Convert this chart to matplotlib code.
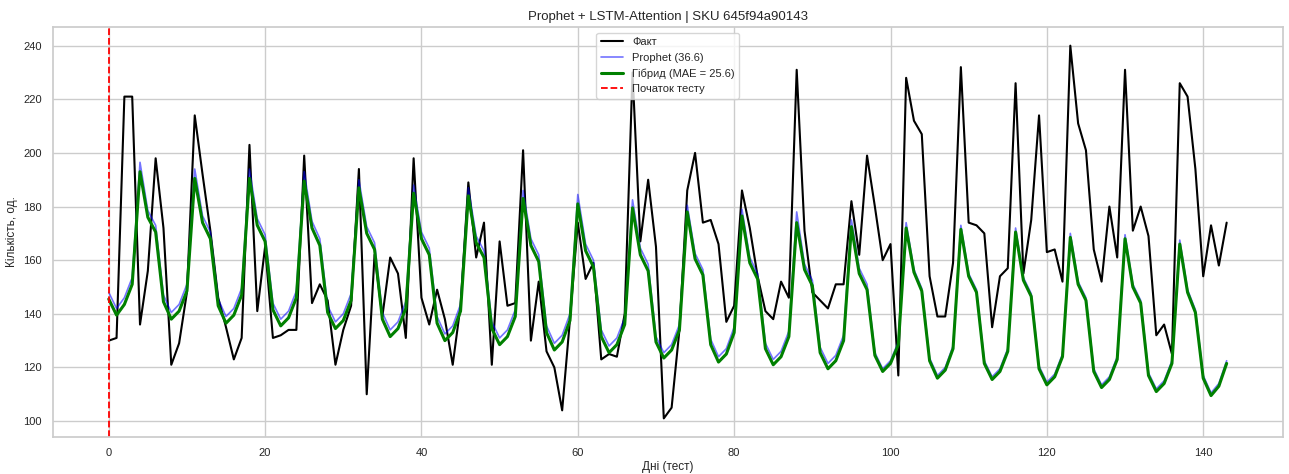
import matplotlib
matplotlib.use("Agg")
import matplotlib.pyplot as plt
import seaborn as sns
import numpy as np

days = list(range(144))

fact = [
    130, 131, 221, 221, 136, 156, 198,
    172, 121, 129, 148, 214, 192, 171,
    146, 135, 123, 131, 203, 141, 165,
    131, 132, 134, 134, 199, 144, 151,
    145, 121, 134, 143, 194, 110, 162,
    139, 161, 155, 131, 198, 146, 136,
    149, 138, 121, 143, 189, 161, 174,
    121, 167, 143, 144, 201, 130, 152,
    126, 120, 104, 138, 174, 153, 159,
    123, 125, 124, 140, 230, 167, 190,
    165, 101, 105, 134, 186, 200, 174,
    175, 166, 137, 143, 186, 172, 154,
    141, 138, 152, 146, 231, 171, 148,
    145, 142, 151, 151, 182, 162, 199,
    180, 160, 166, 117, 228, 212, 207,
    154, 139, 139, 159, 232, 174, 173,
    170, 135, 154, 157, 226, 155, 175,
    214, 163, 164, 152, 240, 211, 201,
    164, 152, 180, 161, 231, 171, 180,
    169, 132, 136, 125, 226, 221, 194,
    154, 173, 158, 174,
]

prophet = [
    148, 142, 146, 153.5, 196.5, 178.5, 173,
    147, 140.5, 143.5, 151, 194, 176.5, 170.5,
    145.5, 139, 142, 149.5, 194, 175.5, 169.5,
    144, 138, 141, 148.5, 193, 174.5, 168,
    143, 137, 140, 147.5, 190, 172.5, 166.5,
    140.5, 134, 137, 144.5, 188, 170.5, 164.5,
    139, 132.5, 135.5, 143.5, 187, 169, 163.5,
    137, 131, 134, 141.5, 186, 168, 162,
    135.5, 129, 132, 140, 184.5, 166, 160,
    134, 128, 131, 138.5, 182.5, 164.5, 158.5,
    131.5, 125.5, 128.5, 136, 180.5, 162.5, 156.5,
    130.5, 124, 127, 135, 179, 161, 155,
    129, 123, 126, 133.5, 178, 158.5, 152.5,
    127.5, 121.5, 124.5, 132, 175, 157, 151,
    125.5, 119.5, 122.5, 129.5, 174, 156.5, 149.5,
    123.5, 117, 120, 128, 173, 155, 149,
    122.5, 116.5, 119.5, 127, 172, 153.5, 147.5,
    120.5, 114.5, 117.5, 125, 170, 152, 146,
    119.5, 113.5, 116.5, 124, 169.5, 151, 145,
    118, 112, 115, 122.5, 167.5, 149, 141.5,
    117, 110.5, 114, 122.5,
]

hybrid = [
    145.5, 139.5, 143.5, 151, 193, 176, 170.5,
    144.5, 138, 141, 148.5, 190.5, 174, 168,
    143, 136.5, 139.5, 147, 190.5, 173, 167,
    141.5, 135.5, 138.5, 146, 189.5, 172, 165.5,
    140.5, 134.5, 137.5, 145, 187, 170, 164,
    138, 131.5, 134.5, 142, 185, 168, 162,
    136.5, 130, 133, 141, 184, 166.5, 161,
    134.5, 128.5, 131.5, 139, 183, 165.5, 159.5,
    133, 126.5, 129.5, 137.5, 181, 163.5, 157.5,
    131.5, 125.5, 128.5, 136, 179.5, 162, 156,
    129.5, 123.5, 126.5, 134, 178, 160.5, 154.5,
    128.5, 122, 125, 133, 176.5, 159, 153,
    127, 121, 124, 131.5, 174, 156.5, 150.5,
    125.5, 119.5, 122.5, 130, 172.5, 155, 149,
    124.5, 118.5, 121.5, 128.5, 172, 155.5, 148.5,
    122.5, 116, 119, 127, 171.5, 154, 148,
    121.5, 115.5, 118.5, 126, 170.5, 152.5, 146.5,
    119.5, 113.5, 116.5, 124, 168.5, 151, 145,
    118.5, 112.5, 115.5, 123, 168, 150, 144,
    117, 111, 114, 121.5, 166, 148, 140.5,
    116, 109.5, 113, 121.5,
]

title = "Prophet + LSTM-Attention | SKU 645f94a90143"
labels = ["Факт", "Prophet (36.6)", "Гібрид (MAE = 25.6)", "Початок тесту"]
xlabel = "Дні (тест)"
ylabel = "Кількість, од."

sns.set_theme(style="whitegrid")
plt.rcParams['font.family'] = ['Liberation Sans', 'DejaVu Sans']
plt.rcParams['font.size'] = 8

fig = plt.figure(figsize=(12.89, 4.74), dpi=100)
ax = fig.add_axes([0.041, 0.078, 0.954, 0.865])

ax.plot(days, fact, color='black', lw=1.5, label=labels[0])
ax.plot(days, prophet, color='blue', alpha=0.55, lw=1.2, label=labels[1])
ax.plot(days, hybrid, color='green', lw=2.2, label=labels[2])
ax.axvline(0, color='red', ls='--', lw=1.3, label=labels[3])

ax.set_title(title, fontsize=9.5, color='#262626', pad=5)
ax.set_xlabel(xlabel, fontsize=8.5, color='#262626', labelpad=2)
ax.set_ylabel(ylabel, fontsize=8.5, color='#262626', labelpad=4)
ax.tick_params(labelsize=8, colors='#262626', pad=2)
leg = ax.legend(loc='upper center', fontsize=8, frameon=True, framealpha=0.8)

fig.savefig("out.png", dpi=100)
